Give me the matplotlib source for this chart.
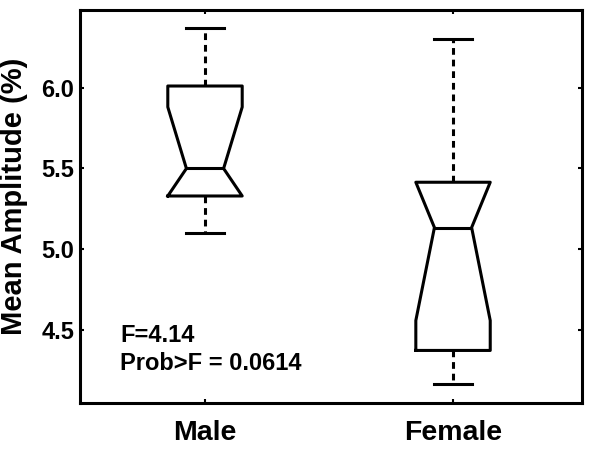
import matplotlib
matplotlib.use("Agg")
import matplotlib.pyplot as plt

# values
groups = ["Male", "Female"]
medians = [5.50, 5.135]
q1s = [5.33, 4.375]
q3s = [6.01, 5.415]
whisk_lo = [5.10, 4.165]
whisk_hi = [6.37, 6.30]
notch_lo = [5.33, 4.56]
notch_hi = [5.88, 5.415]
yticks = [4.5, 5.0, 5.5, 6.0]
stat_text = ["F=4.14", "Prob>F = 0.0614"]

plt.rcParams['font.family'] = ['Liberation Sans', 'DejaVu Sans']
plt.rcParams['font.weight'] = 'bold'

stats = []
for i, g in enumerate(groups):
    stats.append(dict(label=g, med=medians[i], q1=q1s[i], q3=q3s[i],
                      whislo=whisk_lo[i], whishi=whisk_hi[i],
                      cilo=notch_lo[i], cihi=notch_hi[i], fliers=[]))

fig = plt.figure(figsize=(5.89, 4.49), dpi=100)
ax = fig.add_axes((80 / 589, 1 - 403 / 449, 502 / 589, 393 / 449))

lw = 2.2
ax.bxp(stats, positions=[1, 2], widths=0.3, shownotches=True,
       showfliers=False,
       boxprops=dict(color='black', linewidth=lw),
       medianprops=dict(color='black', linewidth=lw),
       whiskerprops=dict(color='black', linewidth=lw, linestyle=(0, (2.2, 1.6))),
       capprops=dict(color='black', linewidth=lw))

ax.set_xlim(0.496, 2.52)
ax.set_ylim(4.05, 6.48)
ax.set_yticks(yticks)
ax.set_yticklabels([f"{v:.1f}" for v in yticks])
ax.set_xticks([1, 2])
ax.set_xticklabels(groups, fontsize=20.5, fontweight='bold')
ax.tick_params(axis='x', pad=12)
ax.tick_params(axis='y', labelsize=17, pad=4)
ax.tick_params(which='both', direction='in', top=True, right=True,
               width=1.5, length=3)
ax.minorticks_off()

for s in ax.spines.values():
    s.set_linewidth(2.2)

ax.set_ylabel("Mean Amplitude (%)", fontsize=21, fontweight='bold')
ax.yaxis.set_label_coords(-0.103, 0.525)

ax.text(0.08, 0.173, stat_text[0], transform=ax.transAxes, fontsize=17,
        fontweight='bold', va='center')
ax.text(0.08, 0.10, stat_text[1], transform=ax.transAxes, fontsize=17,
        fontweight='bold', va='center')

fig.savefig("out.png", dpi=100)
